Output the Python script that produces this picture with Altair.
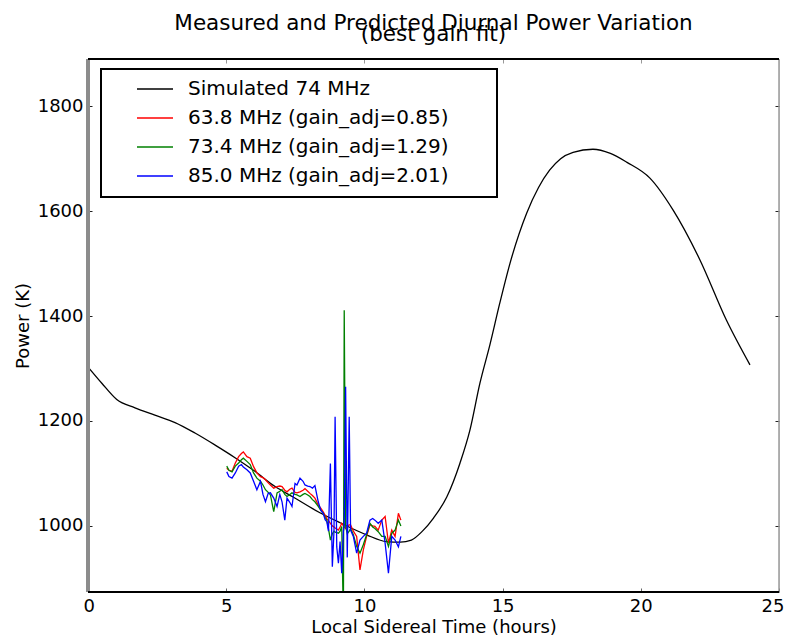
import altair as alt
import pandas as pd

# ---------------- data ----------------
sim_lst = [0.0, 0.5, 1.04, 1.7, 2.42, 3.15, 3.87, 4.6, 5.32, 6.04, 6.77, 7.42, 8.39,
           9.12, 10.08, 10.8, 11.3, 11.7, 12.1, 12.5, 12.98, 13.46, 13.82, 14.18,
           14.54, 14.9, 15.27, 15.87, 16.3, 16.7, 17.1, 17.55, 18.27, 18.9, 19.5,
           20.33, 21.17, 22.14, 23.1, 23.95]
sim_power = [1303, 1272, 1241, 1225, 1211, 1197, 1177, 1154, 1130, 1104, 1075, 1055,
             1025, 1006, 983, 970, 969, 973, 990, 1015, 1055, 1120, 1183, 1272, 1345,
             1425, 1501, 1596, 1645, 1678, 1700, 1712, 1718, 1710, 1693, 1663, 1602,
             1507, 1392, 1307]

meas_lst = [5.02, 5.10, 5.21, 5.33, 5.45, 5.55, 5.62, 5.75, 5.87, 5.99, 6.11, 6.24,
            6.33, 6.42, 6.52, 6.60, 6.72, 6.84, 6.94, 7.02, 7.12, 7.20, 7.30, 7.38,
            7.49, 7.56, 7.67, 7.78, 7.85, 7.95, 8.03, 8.12, 8.21, 8.33, 8.42, 8.51,
            8.58, 8.64, 8.70, 8.77, 8.84, 8.90, 8.94, 9.00, 9.06, 9.12, 9.18, 9.24,
            9.27, 9.32, 9.38, 9.45, 9.50, 9.60, 9.72, 9.84, 9.96, 10.08, 10.20, 10.30,
            10.38, 10.50, 10.63, 10.75, 10.87, 10.99, 11.11, 11.23, 11.32]
red_power = [1110, 1106, 1104, 1120, 1132, 1138, 1141, 1132, 1129, 1113, 1101, 1094,
             1092, 1088, 1082, 1078, 1072, 1075, 1076, 1075, 1068, 1065, 1070, 1072,
             1064, 1063, 1065, 1068, 1071, 1066, 1062, 1058, 1053, 1040, 1034, 1027,
             1020, 1014, 1010, 1005, 1000, 998, 996, 994, 992, 998, 1005, 1000,
             998, 995, 1000, 1002, 1002, 990, 980, 916, 954, 980, 1002, 1000,
             999, 992, 1011, 1018, 967, 992, 980, 1024, 1011]
green_power = [1114, 1106, 1103, 1114, 1120, 1126, 1129, 1123, 1117, 1101, 1091, 1085,
               1078, 1069, 1064, 1059, 1027, 1063, 1066, 1069, 1060, 1056, 1060, 1063,
               1060, 1059, 1056, 1060, 1062, 1059, 1056, 1050, 1046, 1037, 1030, 1024,
               1016, 1011, 995, 973, 985, 990, 988, 987, 986, 990, 999, 820,
               1411, 1000, 985, 990, 995, 983, 961, 948, 964, 983, 1005, 998,
               995, 989, 980, 980, 961, 986, 992, 1011, 1000]
blue_power = [1103, 1094, 1091, 1101, 1114, 1117, 1112, 1107, 1101, 1085, 1069, 1085,
              1060, 1046, 1062, 1063, 1053, 1037, 1060, 1046, 1011, 1053, 1045, 1037,
              1081, 1078, 1091, 1085, 1078, 1076, 1075, 1072, 1077, 1046, 1030, 1024,
              1012, 1008, 990, 1119, 922, 990, 1208, 960, 929, 970, 910, 990,
              1000, 1265, 940, 1208, 992, 980, 948, 973, 980, 986, 1011, 1014,
              1011, 1005, 1011, 967, 910, 980, 973, 960, 980]

series_names = ["Simulated 74 MHz", "63.8 MHz (gain_adj=0.85)",
                "73.4 MHz (gain_adj=1.29)", "85.0 MHz (gain_adj=2.01)"]
series_colors = ["#000000", "#ff0000", "#008000", "#0000ff"]
x_ticks = [0, 5, 10, 15, 20, 25]
y_ticks = [1000, 1200, 1400, 1600, 1800]
x_domain = [0, 25]
y_domain = [874, 1890]

# ---------------- layout ----------------
W, H = 691, 533
FONT = "DejaVu Sans"

sim_df = pd.DataFrame({"lst": sim_lst, "power": sim_power, "series": series_names[0]})
red_df = pd.DataFrame({"lst": meas_lst, "power": red_power, "series": series_names[1]})
green_df = pd.DataFrame({"lst": meas_lst, "power": green_power, "series": series_names[2]})
blue_df = pd.DataFrame({"lst": meas_lst, "power": blue_power, "series": series_names[3]})
one = pd.DataFrame({"k": [0]})

x_scale = alt.Scale(domain=x_domain, nice=False, zero=False)
y_scale = alt.Scale(domain=y_domain, nice=False, zero=False)

color = alt.Color(
    "series:N",
    scale=alt.Scale(domain=series_names, range=series_colors),
    legend=alt.Legend(
        title=None, orient="none", legendX=48, legendY=11,
        symbolType="stroke", symbolSize=1296, symbolStrokeWidth=1.5,
        labelFontSize=20, labelFont=FONT, labelColor="black",
        labelOffset=14, labelLimit=600, rowPadding=-1, padding=0,
    ),
)

x_bottom = alt.Axis(values=x_ticks, orient="bottom", offset=-4, tickSize=4,
                    domain=False, grid=False, labelPadding=5, tickColor="#666",
                    labelFlush=True, labelFlushOffset=5, format="d",
                    title="Local Sidereal Time (hours)", titlePadding=3,
                    labelFontSize=18, titleFontSize=18, labelFont=FONT, titleFont=FONT,
                    titleFontWeight="normal", labelColor="black", titleColor="black")
y_left = alt.Axis(values=y_ticks, orient="left", offset=-4, tickSize=4,
                  domain=False, grid=False, labelPadding=5, tickColor="#222",
                  labelFlush=False, format="d",
                  title="Power (K)", titlePadding=5,
                  labelFontSize=18, titleFontSize=18, labelFont=FONT, titleFont=FONT,
                  titleFontWeight="normal", labelColor="black", titleColor="black")
x_top = alt.Axis(values=x_ticks[1:-1], orient="top", offset=-4, tickSize=4,
                 domain=False, grid=False, labels=False, title=None, tickColor="#999")
y_right = alt.Axis(values=y_ticks, orient="right", offset=-4, tickSize=4,
                   domain=False, grid=False, labels=False, title=None, tickColor="#222")

sim = alt.Chart(sim_df).mark_line(strokeWidth=1.3, interpolate="monotone", clip=True).encode(
    x=alt.X("lst:Q", scale=x_scale, axis=x_bottom),
    y=alt.Y("power:Q", scale=y_scale, axis=y_left),
    color=color,
)
red = alt.Chart(red_df).mark_line(strokeWidth=1.3, clip=True).encode(
    x=alt.X("lst:Q", scale=x_scale, axis=None),
    y=alt.Y("power:Q", scale=y_scale, axis=None),
    color=color,
)
green = alt.Chart(green_df).mark_line(strokeWidth=1.3, clip=True).encode(
    x=alt.X("lst:Q", scale=x_scale, axis=None),
    y=alt.Y("power:Q", scale=y_scale, axis=None),
    color=color,
)
blue = alt.Chart(blue_df).mark_line(strokeWidth=1.3, clip=True).encode(
    x=alt.X("lst:Q", scale=x_scale, axis=x_top),
    y=alt.Y("power:Q", scale=y_scale, axis=y_right),
    color=color,
)

legend_box = alt.Chart(one).mark_rect(fill="white", stroke="black", strokeWidth=2).encode(
    x=alt.value(13), x2=alt.value(409), y=alt.value(10), y2=alt.value(138))

border_left = alt.Chart(one).mark_rule(color="#8c8c8c", strokeWidth=4).encode(
    x=alt.value(0), y=alt.value(0), y2=alt.value(H))
border_right = alt.Chart(one).mark_rule(color="#9a9a9a", strokeWidth=1.5).encode(
    x=alt.value(W), y=alt.value(0), y2=alt.value(H))
border_top = alt.Chart(one).mark_rule(color="black", strokeWidth=2).encode(
    x=alt.value(0), x2=alt.value(W), y=alt.value(0))
border_bottom = alt.Chart(one).mark_rule(color="black", strokeWidth=2).encode(
    x=alt.value(0), x2=alt.value(W), y=alt.value(H))

chart = (
    alt.layer(legend_box, sim, red, green, blue,
              border_left, border_right, border_top, border_bottom)
    .resolve_axis(x="independent", y="independent")
    .properties(
        width=W, height=H,
        autosize=alt.AutoSizeParams(type="none"),
        padding={"left": 80, "top": 51, "right": 5, "bottom": 46},
        title=alt.Title(
            text=["Measured and Predicted Diurnal Power Variation", "(best gain fit)"],
            fontSize=21.5, font=FONT, fontWeight="normal", lineHeight=11,
            anchor="middle", offset=12, color="black",
        ),
    )
    .configure_view(stroke=None)
    .configure(background="white")
)

chart.save("out.html", embed_options={"renderer": "svg", "actions": False})
